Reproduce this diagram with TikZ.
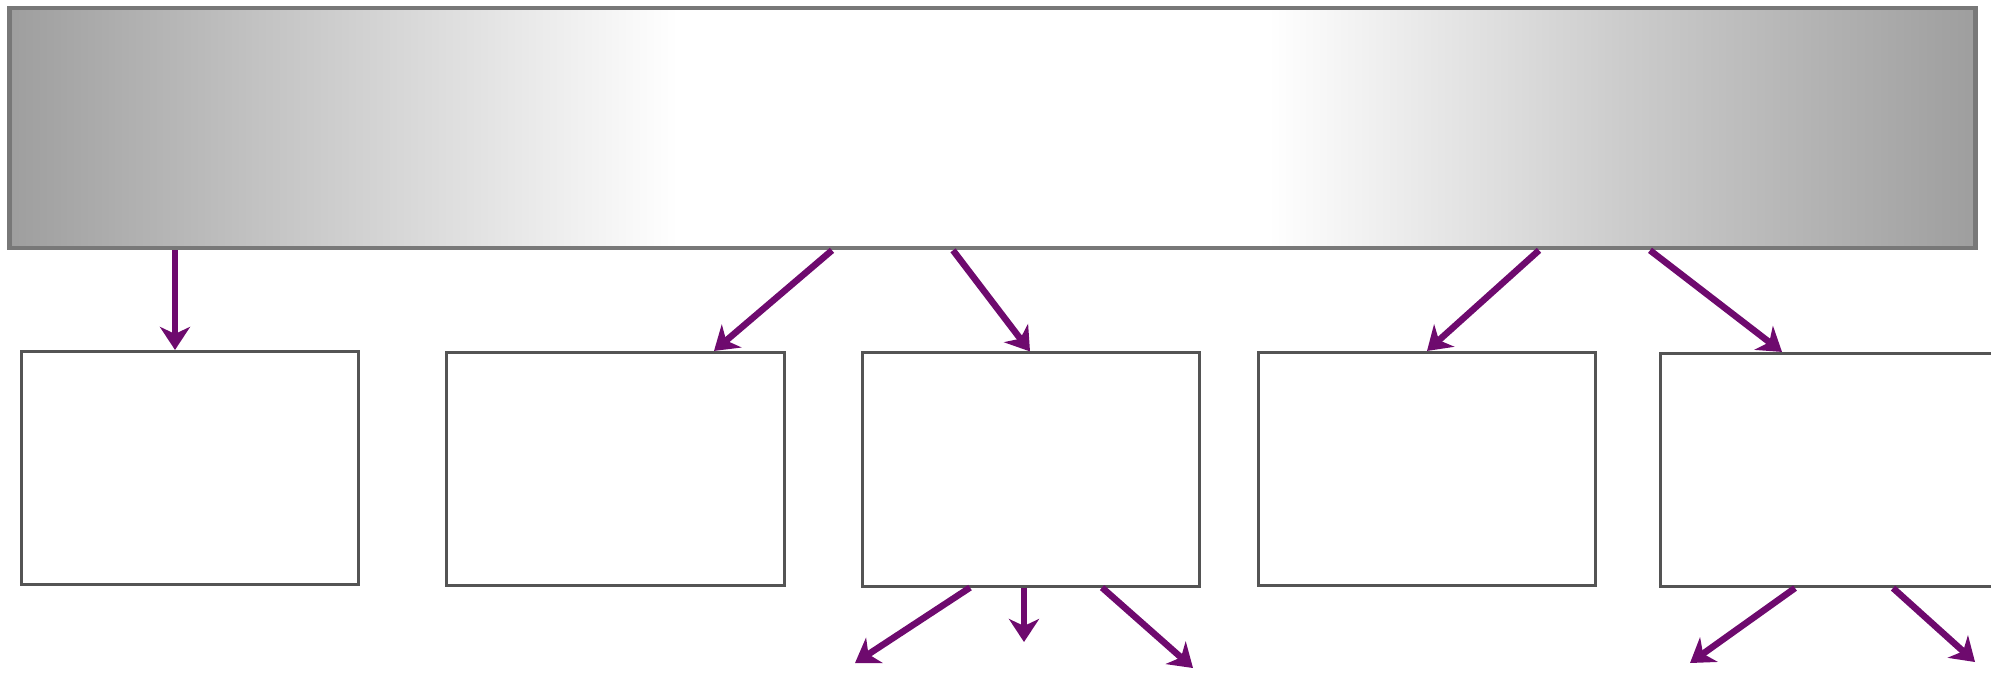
\documentclass[tikz,border=0pt]{standalone}
\usetikzlibrary{arrows.meta,calc}
\tikzset{>={Stealth[length=2.3mm, width=3mm, inset=.7mm]}}
\definecolor{cbar}{gray}{.62}
\definecolor{cbarm}{gray}{.8}
\definecolor{cbarl}{gray}{.47}
\definecolor{cedge}{gray}{.33}
\definecolor{cpur}{RGB}{110,10,110}
\pgfdeclarehorizontalshading{barshade}{100bp}{color(0bp)=(cbar); color(25bp)=(cbar); color(33bp)=(cbarm); color(42bp)=(white); color(57bp)=(white); color(66bp)=(cbarm); color(75bp)=(cbar); color(100bp)=(cbar)}
\tikzset{cbox/.style={draw=cedge, line width=.3mm, fill=white, inner sep=0pt, minimum width=3.37cm, minimum height=2.33cm}}
\tikzset{link/.style={->, cpur, line width=.65mm}}

\begin{document}
\begin{tikzpicture}[x=.01cm, y=-.01cm]
    \useasboundingbox(0, 0)rectangle(1991, 672);
    \node[draw=cbarl, line width=.45mm, shading=barshade, inner sep=0pt, minimum width=19.65cm, minimum height=2.4cm](bar) at(992.5, 128){};
    \node[cbox](b1) at(190, 468){};
    \node[cbox](b2) at(615.5, 469){};
    \node[cbox](b3) at(1031, 469.5){};
    \node[cbox](b4) at(1427, 469){};
    \node[cbox](b5) at(1829, 470){};
    \draw[link]($(bar.south)+(-817.5, 0)$)--($(b1.north)+(-15, 0)$);
    \draw[link]($(bar.south)+(-160.5, 0)$)--($(b2.north)+(98.5, 0)$);
    \draw[link]($(bar.south)+(-39.5, 0)$)--($(b3.north)+(-1, 0)$);
    \draw[link]($(bar.south)+(546.5, 0)$)--(b4.north);
    \draw[link]($(bar.south)+(657.5, 0)$)--($(b5.north)+(-47, 0)$);
    \coordinate(o1) at(855, 663);
    \coordinate(o2) at(1024, 642);
    \coordinate(o3) at(1193, 668);
    \coordinate(o4) at(1690, 663);
    \coordinate(o5) at(1975, 662);
    \draw[link]($(b3.south)+(-61, 0)$)--(o1);
    \draw[link]($(b3.south)+(-7, 0)$)--(o2);
    \draw[link]($(b3.south)+(71, 0)$)--(o3);
    \draw[link]($(b5.south)+(-34, 0)$)--(o4);
    \draw[link]($(b5.south)+(64, 0)$)--(o5);
\end{tikzpicture}
\end{document}
